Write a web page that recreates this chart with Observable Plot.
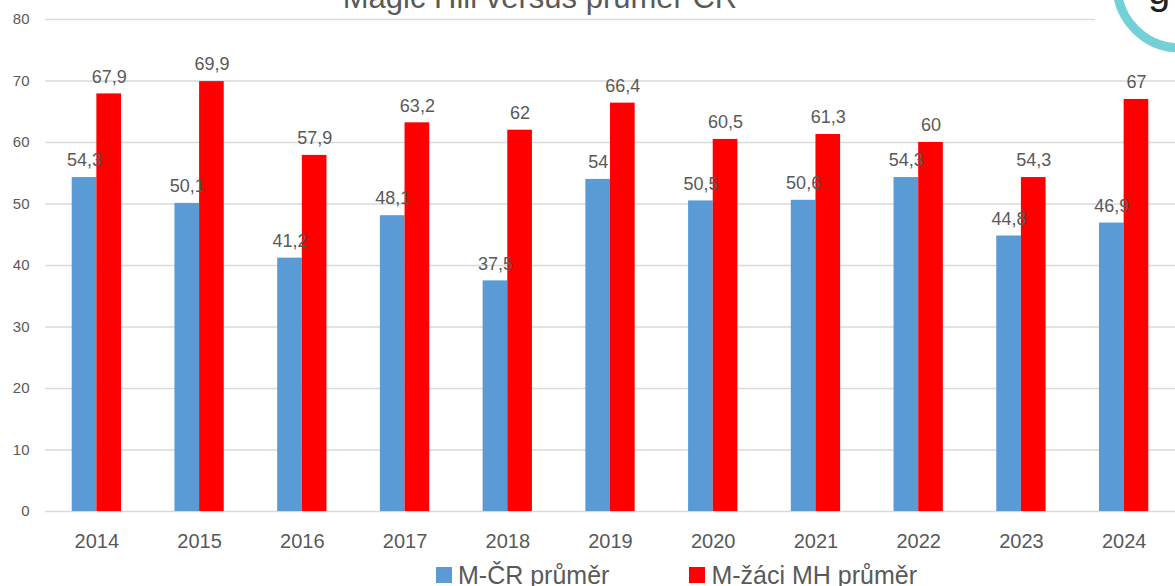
<!DOCTYPE html>
<html>
<head>
<meta charset="utf-8">
<script src="https://cdn.jsdelivr.net/npm/d3@7"></script>
<script src="https://cdn.jsdelivr.net/npm/@observablehq/plot@0.6"></script>
<style>
  html, body { margin: 0; padding: 0; background: #fff; overflow: hidden; }
  body { width: 1175px; height: 586px; position: relative; font-family: "Liberation Sans", Arial, sans-serif; }
  #chart { position: relative; width: 1175px; height: 560px; }
  #chart svg { position: absolute; left: 0; top: 0; }
  #title { position: absolute; left: 0; width: 1080px; top: -18px; text-align: center; font-size: 31px; line-height: 31px; color: #595959; white-space: nowrap; }
  #logo { position: absolute; right: 0; top: 0; width: 80px; height: 56px; background: #fff; overflow: hidden; }
  #legend { position: absolute; left: 436px; top: 560px; font-size: 25px; line-height: 30px; color: #595959; white-space: nowrap; display: flex; }
  #legend .item { display: flex; align-items: center; }
  #legend .sw { width: 16px; height: 16px; margin-right: 6px; display: inline-block; }
</style>
</head>
<body>
<div id="chart"></div>
<div id="title"></div>
<div id="logo"><svg width="80" height="56"><circle cx="85" cy="-15" r="63" fill="none" stroke="#72D0D6" stroke-width="9"/><text x="53" y="4" font-size="40" fill="#222" font-family="Liberation Sans">g</text></svg></div>
<div id="legend"></div>
<script>
const titleText = "Magic Hill versus průměr ČR";
const years = ["2014", "2015", "2016", "2017", "2018", "2019", "2020", "2021", "2022", "2023", "2024"];
const seriesNames = ["M-ČR průměr", "M-žáci MH průměr"];
const crAverage = [54.3, 50.1, 41.2, 48.1, 37.5, 54, 50.5, 50.6, 54.3, 44.8, 46.9];
const mhAverage = [67.9, 69.9, 57.9, 63.2, 62, 66.4, 60.5, 61.3, 60, 54.3, 67];
const yTicks = [0, 10, 20, 30, 40, 50, 60, 70, 80];
const seriesColors = ["#5B9BD5", "#FF0000"];

const data = [];
years.forEach((yr, i) => {
  data.push({year: yr, series: seriesNames[0], value: crAverage[i]});
  data.push({year: yr, series: seriesNames[1], value: mhAverage[i]});
});
const fmt = v => String(v).replace(".", ",");

const common = {
  width: 1175,
  height: 560,
  marginLeft: 45,
  marginRight: 0,
  marginTop: 19,
  marginBottom: 49,
  style: {fontFamily: "Liberation Sans, Arial, sans-serif", background: "transparent"}
};

// Background: gridlines and y-axis labels spanning the whole frame
const background = Plot.plot({
  ...common,
  y: {domain: [0, 80], axis: null},
  marks: [
    Plot.ruleY(yTicks, {stroke: "#d9d9d9", strokeWidth: 1.5}),
    Plot.axisY(yTicks, {anchor: "left", tickSize: 0, tickPadding: 16, fontSize: 15, color: "#595959", label: null})
  ]
});

// Foreground: grouped bars (faceted by year), value labels and year axis
const foreground = Plot.plot({
  ...common,
  fx: {domain: years, paddingInner: 0.52, paddingOuter: 0.26, round: false, label: null},
  x: {domain: seriesNames, padding: 0, round: false, axis: null},
  y: {domain: [0, 80], axis: null},
  color: {domain: seriesNames, range: seriesColors},
  marks: [
    Plot.barY(data, {fx: "year", x: "series", y: "value", fill: "series", inset: 0}),
    Plot.text(data, {fx: "year", x: "series", y: "value", text: d => fmt(d.value), dy: -17, fontSize: 18, fill: "#595959"}),
    Plot.axisFx({anchor: "bottom", tickSize: 0, tickPadding: 22, fontSize: 20, color: "#595959", label: null})
  ]
});
const holder = document.getElementById("chart");
holder.appendChild(background);
holder.appendChild(foreground);

document.getElementById("title").textContent = titleText;

const legend = document.getElementById("legend");
seriesNames.forEach((name, i) => {
  const item = document.createElement("div");
  item.className = "item";
  if (i > 0) item.style.marginLeft = "80px";
  const sw = document.createElement("span");
  sw.className = "sw";
  sw.style.background = seriesColors[i];
  item.appendChild(sw);
  const t = document.createElement("span");
  t.textContent = name;
  item.appendChild(t);
  legend.appendChild(item);
});
</script>
</body>
</html>
